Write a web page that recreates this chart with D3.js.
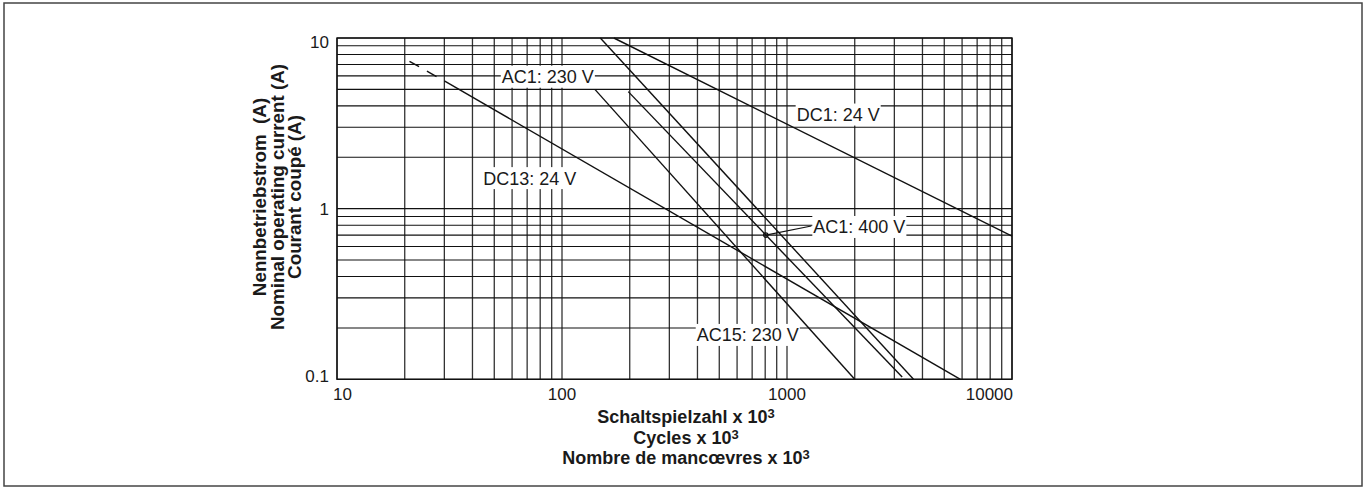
<!DOCTYPE html>
<html><head><meta charset="utf-8">
<script src="https://cdn.jsdelivr.net/npm/d3@7"></script>
<style>
body{margin:0;background:#fff}
text{font-family:"Liberation Sans",Arial,Helvetica,sans-serif;fill:#1a1a1a}
</style>
</head><body>
<svg id="chart" width="1367" height="490"></svg>
<script>
// ---------- data ----------
const xTickValues = [10, 100, 1000, 10000];
const xTickLabels = ["10", "100", "1000", "10000"];
const yTickValues = [0.1, 1, 10];
const yTickLabels = ["0.1", "1", "10"];

const seriesNames = ["DC13: 24 V", "DC1: 24 V", "AC1: 230 V", "AC1: 400 V", "AC15: 230 V"];
const dc13Dashed = [[21, 7.3], [30, 5.6]];
const dc13 = [[30, 5.6], [5900, 0.1]];
const dc1 = [[170, 10], [10000, 0.69]];
const ac1_230 = [[148, 10], [3650, 0.1]];
const ac1_400 = [[197, 4.85], [3250, 0.103]];
const ac15_230 = [[140, 5], [2000, 0.1]];
const ac1_400Marker = [805, 0.7];

// label anchors (data coords: left edge of text, vertical centre)
const labelAnchors = [[44.7, 1.51], [1104, 3.56], [54, 5.93], [1309, 0.781], [397, 0.182]];

const yTitleLines = ["Nennbetriebstrom\u00A0 (A)", "Nominal operating current (A)", "Courant coupé (A)"];
const xTitleLines = ["Schaltspielzahl x 10", "Cycles x 10", "Nombre de mancœvres x 10"];

// ---------- layout ----------
const svg = d3.select("#chart");
const L = 337, R = 1012, T = 38, B = 379.3;
const x = d3.scaleLog().domain([10, 10000]).range([L, R]);
const y = d3.scaleLog().domain([0.1, 10]).range([B, T]);

// outer frame
svg.append("rect").attr("x", 4).attr("y", 3).attr("width", 1358).attr("height", 483)
  .attr("fill", "none").attr("stroke", "#444").attr("stroke-width", 1.5);

// grid
const grid = svg.append("g");
grid.selectAll("line.v").data(x.ticks()).join("line")
  .attr("x1", d => x(d)).attr("x2", d => x(d)).attr("y1", T).attr("y2", B)
  .attr("stroke", "#333").attr("stroke-width", 1.3);
grid.selectAll("line.h").data(y.ticks()).join("line")
  .attr("x1", L).attr("x2", R).attr("y1", d => y(d)).attr("y2", d => y(d))
  .attr("stroke", "#111").attr("stroke-width", 1.1);
svg.append("rect").attr("x", L).attr("y", T).attr("width", R - L).attr("height", B - T)
  .attr("fill", "none").attr("stroke", "#111").attr("stroke-width", 1.4);

// tick labels
svg.selectAll("text.xt").data(xTickValues).join("text")
  .attr("x", (d, i) => i === 0 ? x(d) - 4 : (i === xTickValues.length - 1 ? x(d) + 1 : x(d)))
  .attr("y", B + 21)
  .attr("text-anchor", (d, i) => i === 0 ? "start" : (i === xTickValues.length - 1 ? "end" : "middle"))
  .attr("font-size", 17).text((d, i) => xTickLabels[i]);
svg.selectAll("text.yt").data(yTickValues).join("text")
  .attr("x", L - 8)
  .attr("y", d => Math.min(Math.max(y(d), T + 4), B - 3) + 6)
  .attr("text-anchor", "end").attr("font-size", 17).text((d, i) => yTickLabels[i]);

// series
const line = d3.line().x(d => x(d[0])).y(d => y(d[1]));
const series = [dc13, dc1, ac1_230, ac1_400, ac15_230];
const plot = svg.append("g");
plot.selectAll("path.s").data(series).join("path")
  .attr("d", line).attr("fill", "none").attr("stroke", "#111").attr("stroke-width", 1.4);
plot.append("path").attr("d", line(dc13Dashed)).attr("fill", "none")
  .attr("stroke", "#111").attr("stroke-width", 1.4).attr("stroke-dasharray", "11,9");

// labels with white boxes
const labels = svg.append("g");
seriesNames.forEach((name, i) => {
  const [lx, ly] = labelAnchors[i];
  const g = labels.append("g");
  const t = g.append("text").attr("x", x(lx)).attr("y", y(ly) + 6.5)
    .attr("font-size", 18).text(name);
  const bb = t.node().getBBox();
  g.insert("rect", "text").attr("x", bb.x - 1).attr("y", y(ly) - 11)
    .attr("width", bb.width + 2).attr("height", 22).attr("fill", "#fff");
});

// marker + leader for AC1: 400 V
const mx = x(ac1_400Marker[0]), my = y(ac1_400Marker[1]);
svg.append("line").attr("x1", mx).attr("y1", my)
  .attr("x2", x(labelAnchors[3][0]) - 2).attr("y2", y(labelAnchors[3][1]) - 1)
  .attr("stroke", "#111").attr("stroke-width", 1.2);
svg.append("circle").attr("cx", mx).attr("cy", my).attr("r", 2.2)
  .attr("fill", "none").attr("stroke", "#111").attr("stroke-width", 1.2);

// y title
const yTitleX = [266, 284, 301];
yTitleLines.forEach((s, i) => {
  svg.append("text").attr("transform", `translate(${yTitleX[i]},197) rotate(-90)`)
    .attr("text-anchor", "middle").attr("font-size", 18.8).attr("font-weight", "bold").text(s);
});

// x title
const xTitleY = [423, 444, 464];
xTitleLines.forEach((s, i) => {
  const t = svg.append("text").attr("x", 686).attr("y", xTitleY[i])
    .attr("text-anchor", "middle").attr("font-size", 18).attr("font-weight", "bold");
  t.append("tspan").text(s);
  t.append("tspan").attr("dy", -5).attr("font-size", 13).text("3");
});
</script>
</body></html>
